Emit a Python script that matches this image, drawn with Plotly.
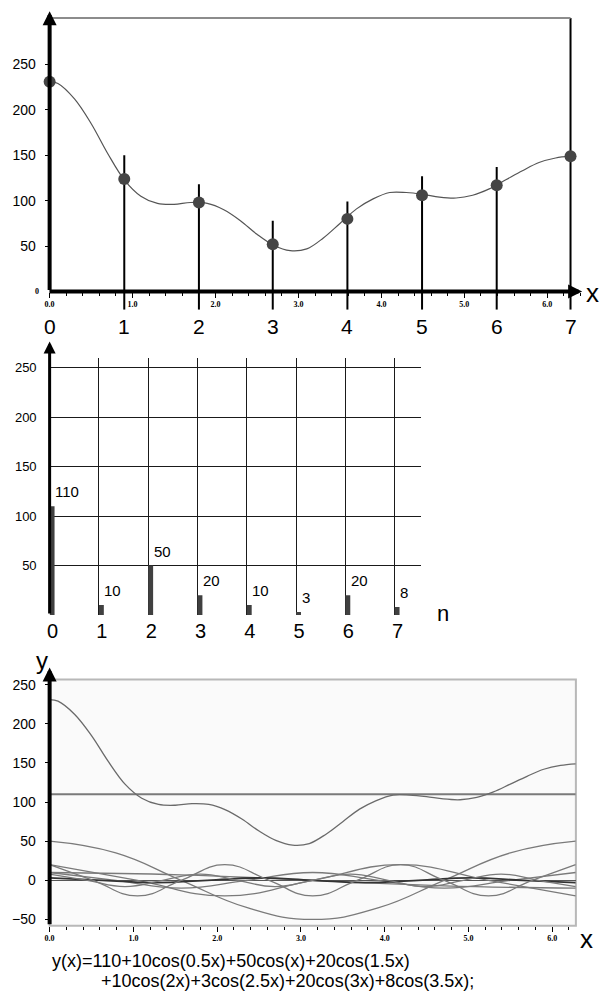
import plotly.graph_objects as go

W, H = 599, 1004

# amplitudes of the harmonics (stem chart, middle panel)
harm_n = [0, 1, 2, 3, 4, 5, 6, 7]
harm_amp = [110, 10, 50, 20, 10, 3, 20, 8]

# sampled points of y(x) at x = 2*pi*k/7 (top panel)
sample_x = [0, 0.90, 1.80, 2.69, 3.59, 4.49, 5.39, 6.28]
sample_y = [231, 124, 98, 52, 80, 106, 117, 149]
stem_top = [None, 150, 118, 78, 99, 127, 137, 301]
sample_lbl = ["0", "1", "2", "3", "4", "5", "6", "7"]

# the summed curve y(x)
sum_x = [0, 0.1, 0.3, 0.5, 0.7, 0.9, 1.1, 1.3, 1.5, 1.7, 1.9, 2.1, 2.3, 2.5, 2.7, 2.9,
         3.1, 3.3, 3.5, 3.7, 3.9, 4.1, 4.3, 4.5, 4.7, 4.9, 5.1, 5.3, 5.5, 5.7, 5.9, 6.1, 6.28]
sum_y = [231, 229, 212, 185, 152, 123, 105, 97, 96, 98, 97, 90, 78, 63, 51, 45,
         47, 59, 75, 91, 102, 109, 109, 107, 104, 103, 106, 113, 123, 133, 142, 147, 149]

# single harmonics drawn in the bottom panel
h0_x = [0, 6.28]
h0_y = [110, 110]
h1_x = [0, 1.57, 3.14, 4.71, 6.28]
h1_y = [10, 7, 0, -7, -10]
h2_x = [0, 0.79, 1.57, 2.36, 3.14, 3.93, 4.71, 5.50, 6.28]
h2_y = [50, 35, 0, -35, -50, -35, 0, 35, 50]
h3_x = [0, 1.05, 2.09, 3.14, 4.19, 5.24, 6.28]
h3_y = [20, 0, -20, 0, 20, 0, -20]
h4_x = [0, 0.79, 1.57, 2.36, 3.14, 3.93, 4.71, 5.50, 6.28]
h4_y = [10, 0, -10, 0, 10, 0, -10, 0, 10]
h5_x = [0, 0.63, 1.26, 1.88, 2.51, 3.14, 3.77, 4.40, 5.03, 5.65, 6.28]
h5_y = [3, 0, -3, 0, 3, 0, -3, 0, 3, 0, -3]
h6_x = [0, 0.52, 1.05, 1.57, 2.09, 2.62, 3.14, 3.67, 4.19, 4.71, 5.24, 5.76, 6.28]
h6_y = [20, 0, -20, 0, 20, 0, -20, 0, 20, 0, -20, 0, 20]
h7_x = [0, 0.45, 0.90, 1.35, 1.80, 2.24, 2.69, 3.14, 3.59, 4.04, 4.49, 4.94, 5.39, 5.83, 6.28]
h7_y = [8, 0, -8, 0, 8, 0, -8, 0, 8, 0, -8, 0, 8, 0, -8]

xtick_vals = [0, 1, 2, 3, 4, 5, 6]
xtick_text = ["<b>%.1f</b>" % v for v in xtick_vals]

formula_1 = "y(x)=110+10cos(0.5x)+50cos(x)+20cos(1.5x)"
formula_2 = "+10cos(2x)+3cos(2.5x)+20cos(3x)+8cos(3.5x);"

FONT = "Liberation Sans, Arial, sans-serif"
SMALL = dict(family="Liberation Serif, Times New Roman, serif", size=8, color="black")


def fx(px):
    return px / W


def fy(py):
    return 1 - py / H


def arrow(xa, ya, x0, y0, x1, y1, width, size):
    return dict(xref=xa, yref=ya, axref=xa, ayref=ya, x=x1, y=y1, ax=x0, ay=y0,
                text="", showarrow=True, arrowhead=2, arrowsize=size,
                arrowwidth=width, arrowcolor="black", standoff=0, startstandoff=0)


fig = go.Figure()

# ---- top panel: sampled signal
sx, sy = [], []
for k in range(1, len(sample_x)):
    sx += [sample_x[k], sample_x[k], None]
    sy += [-20, stem_top[k], None]
fig.add_trace(go.Scatter(x=sx, y=sy, mode="lines", line=dict(color="black", width=2),
                         xaxis="x", yaxis="y", hoverinfo="skip"))
fig.add_trace(go.Scatter(x=sum_x, y=sum_y, mode="lines",
                         line=dict(color="#555555", width=1.2, shape="spline", smoothing=1),
                         xaxis="x", yaxis="y"))
fig.add_trace(go.Scatter(x=sample_x, y=sample_y, mode="markers", cliponaxis=False,
                         marker=dict(size=12, color="#454545"), xaxis="x", yaxis="y"))

# ---- middle panel: amplitude spectrum
fig.add_trace(go.Bar(x=harm_n, y=harm_amp, width=0.1, offset=0, marker_color="#404040",
                     marker_line_width=0, xaxis="x2", yaxis="y2"))

# ---- bottom panel: harmonics and their sum
harmonics = [(h0_x, h0_y), (h1_x, h1_y), (h2_x, h2_y), (h3_x, h3_y),
             (h4_x, h4_y), (h5_x, h5_y), (h6_x, h6_y), (h7_x, h7_y)]
for i, (hx, hy) in enumerate(harmonics):
    col = "#7a7a7a"
    w = 1.3
    if i == 0:
        w = 2
    if i == 5:
        col = "#333333"
        w = 1.8
    fig.add_trace(go.Scatter(x=hx, y=hy, mode="lines",
                             line=dict(color=col, width=w, shape="spline", smoothing=1.3),
                             xaxis="x3", yaxis="y3"))
fig.add_trace(go.Scatter(x=sum_x, y=sum_y, mode="lines",
                         line=dict(color="#6a6a6a", width=1.3, shape="spline", smoothing=1),
                         xaxis="x3", yaxis="y3"))

annotations = []
# axes with arrow heads
annotations.append(arrow("x", "y", 0, 0, 0, 308.4, 4, 0.7))
annotations.append(arrow("x", "y", -0.02, 0, 6.42, 0, 4, 0.7))
annotations.append(arrow("x2", "y2", 0, 0, 0, 276.7, 3, 0.8))
annotations.append(arrow("x2", "y2", -0.03, 0, 7.69, 0, 3, 0.8))
annotations.append(arrow("x3", "y3", 0, -58, 0, 272, 4, 0.7))
annotations.append(arrow("x3", "y3", -0.02, -58, 6.34, -58, 4, 0.7))

# axis names
for txt, px, py, sz in [("x", 592, 291, 26), ("n", 442, 614, 22), ("y", 37, 661, 24), ("x", 586, 941, 26)]:
    annotations.append(dict(xref="paper", yref="paper", x=fx(px), y=fy(py), text=txt,
                            showarrow=False, xanchor="center", yanchor="middle",
                            font=dict(family=FONT, size=sz, color="black")))

# small bold zero on the top panel's y axis
annotations.append(dict(xref="paper", yref="y", x=fx(36), y=0, text="<b>0</b>", showarrow=False,
                        xanchor="right", yanchor="middle", font=SMALL))

# sample numbers under the top panel
for xv, lbl in zip(sample_x, sample_lbl):
    annotations.append(dict(xref="x", yref="paper", x=xv, y=fy(325), text=lbl, showarrow=False,
                            xanchor="center", yanchor="middle",
                            font=dict(family=FONT, size=21, color="black")))

# amplitude labels on the stems
for n, a in zip(harm_n, harm_amp):
    annotations.append(dict(xref="x2", yref="y2", x=n + 0.07, y=a, text=str(a), showarrow=False,
                            xanchor="left", yanchor="bottom", yshift=4,
                            font=dict(family=FONT, size=15, color="black")))

# formula text
annotations.append(dict(xref="paper", yref="paper", x=fx(45), y=fy(963), text=formula_1,
                        showarrow=False, xanchor="left", yanchor="middle",
                        font=dict(family=FONT, size=18, color="black")))
annotations.append(dict(xref="paper", yref="paper", x=fx(95), y=fy(983), text=formula_2,
                        showarrow=False, xanchor="left", yanchor="middle",
                        font=dict(family=FONT, size=18, color="black")))

shapes = [
    # top border of the top panel
    dict(type="line", xref="x", yref="y", x0=0, x1=6.28, y0=301, y1=301,
         line=dict(color="#8c8c8c", width=2)),
    # background + frame of the bottom panel
    dict(type="rect", xref="x3 domain", yref="y3 domain", x0=0, x1=1, y0=0, y1=1,
         fillcolor="#fafafa", line=dict(color="#b8b8b8", width=2), layer="below"),
]

tickfont = dict(family=FONT, size=14, color="black")

fig.update_layout(
    width=W, height=H,
    margin=dict(l=0, r=0, t=0, b=0),
    paper_bgcolor="white", plot_bgcolor="rgba(0,0,0,0)",
    showlegend=False,
    annotations=annotations,
    shapes=shapes,
    xaxis=dict(domain=[fx(45), fx(582)], range=[0, 6.42], anchor="free", position=fy(290),
               tickvals=xtick_vals, ticktext=xtick_text, tickfont=SMALL,
               ticks="outside", ticklen=5, tickcolor="black",
               minor=dict(dtick=0.2, tick0=0, ticks="outside", ticklen=3, tickcolor="black"),
               showgrid=False, zeroline=False, showline=False),
    yaxis=dict(domain=[fy(308.3), fy(8.7)], range=[-20, 308], anchor="x",
               tickvals=[50, 100, 150, 200, 250],
               tickfont=tickfont, ticks="outside", ticklen=4, tickcolor="black",
               ticklabelstandoff=6, showgrid=False, zeroline=False, showline=False),
    xaxis2=dict(domain=[fx(45), fx(419)], range=[0, 7.525], anchor="y2",
                tickvals=harm_n, ticktext=[str(n) for n in harm_n],
                tickfont=dict(family=FONT, size=20, color="black"),
                ticks="", ticklabelshift=3, ticklabelstandoff=2,
                showgrid=True, gridcolor="#1a1a1a", gridwidth=1.2,
                zeroline=False, showline=False),
    yaxis2=dict(domain=[fy(615), fy(356.7)], range=[0, 260], anchor="x2",
                tickvals=[50, 100, 150, 200, 250],
                tickfont=dict(family=FONT, size=13, color="black"),
                ticks="", ticklabelstandoff=12,
                showgrid=True, gridcolor="#1a1a1a", gridwidth=1.2,
                zeroline=False, showline=False),
    xaxis3=dict(domain=[fx(45), fx(575.7)], range=[0, 6.2832], anchor="y3",
                tickvals=xtick_vals, ticktext=xtick_text, tickfont=SMALL,
                ticks="outside", ticklen=5, tickcolor="black",
                minor=dict(dtick=0.2, tick0=0, ticks="outside", ticklen=3, tickcolor="black"),
                showgrid=False, zeroline=False, showline=False),
    yaxis3=dict(domain=[fy(927.3), fy(680)], range=[-58, 256.6], anchor="x3",
                tickvals=[-50, 0, 50, 100, 150, 200, 250],
                tickfont=tickfont, ticks="outside", ticklen=4, tickcolor="black",
                ticklabelstandoff=6, showgrid=False,
                zeroline=True, zerolinecolor="#555555", zerolinewidth=1, showline=False),
)

# drop the browser's default page margin so the figure sits at the top-left corner
fig.write_html("out.html", config={"displayModeBar": False},
               post_script="document.body.style.margin='0px';")
